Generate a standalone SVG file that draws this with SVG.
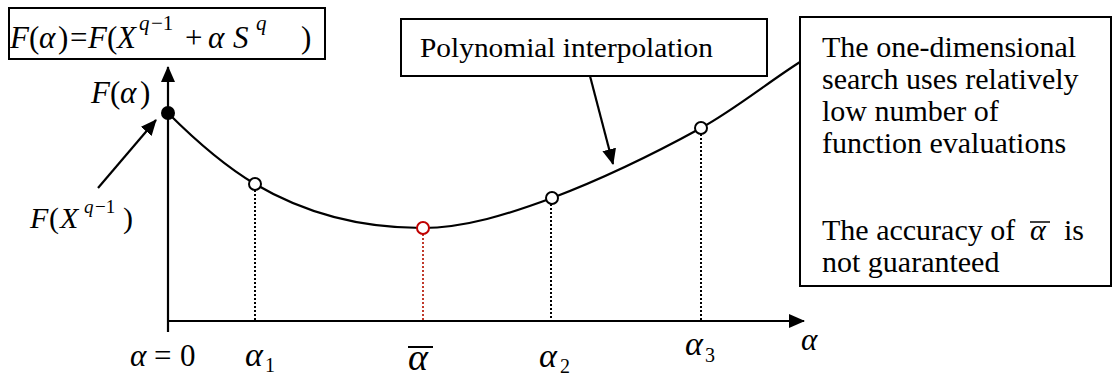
<svg xmlns="http://www.w3.org/2000/svg" width="1113" height="376" viewBox="0 0 1113 376">
<style>
.box{fill:#fff;stroke:#000;stroke-width:2}
.ln{fill:none;stroke:#000;stroke-width:2.2}
.dot{fill:none;stroke:#000;stroke-width:2;stroke-dasharray:2,2}
.rdot{fill:none;stroke:#c0392b;stroke-width:2;stroke-dasharray:2,2}
.pt{fill:#fff;stroke:#000;stroke-width:2}
.m{font-family:"Liberation Serif","Times New Roman",serif;font-style:italic;fill:#000}
.u{font-family:"Liberation Serif","Times New Roman",serif;font-style:normal;fill:#000}
.t{font-family:"Liberation Serif","Times New Roman",serif;font-size:30px;fill:#000}
</style>
<defs>
<marker id="ah" viewBox="0 0 16 14" refX="15" refY="7" markerWidth="16" markerHeight="14" markerUnits="userSpaceOnUse" orient="auto">
<path d="M0,0 L16,7 L0,14 z" fill="#000"/>
</marker>
</defs>
<rect width="1113" height="376" fill="#fff"/>

<g id="formula">
<rect class="box" x="9" y="8" width="316" height="51"/>
<text class="m" font-size="31" y="48"><tspan x="10">F</tspan><tspan class="u" x="29">(</tspan><tspan x="39">α</tspan><tspan class="u" x="58">)</tspan><tspan class="u" x="70">=</tspan><tspan x="88">F</tspan><tspan class="u" x="107">(</tspan><tspan x="117">X</tspan><tspan x="185" class="u">+</tspan><tspan x="208">α</tspan><tspan x="233">S</tspan><tspan class="u" x="301">)</tspan></text>
<text class="m" font-size="21" y="30"><tspan x="139">q</tspan><tspan class="u" x="151">−1</tspan><tspan x="256">q</tspan></text>
</g>

<g id="connectors">
<line class="ln" x1="168" y1="332" x2="168" y2="67" marker-end="url(#ah)"/>
<line class="ln" x1="167" y1="321" x2="804" y2="321" marker-end="url(#ah)"/>
<path class="ln" d="M168,113 C195,140 228,168 255,184 C310,216.5 367,228 422,228 C465,228 509,214 552,198 C602,179 651,155.5 701,128 C734,110 767,83 800,62"/>
<line class="dot" x1="255" y1="190" x2="255" y2="320"/>
<line class="rdot" x1="423" y1="234" x2="423" y2="320"/>
<line class="dot" x1="551" y1="204" x2="551" y2="320"/>
<line class="dot" x1="701" y1="134" x2="701" y2="320"/>
<line class="ln" x1="98" y1="188" x2="156" y2="120" marker-end="url(#ah)"/>
<line class="ln" x1="590" y1="76" x2="613" y2="164" marker-end="url(#ah)"/>
</g>

<g id="points">
<circle cx="168" cy="113" r="7" fill="#000"/>
<circle class="pt" cx="255" cy="184" r="6"/>
<circle cx="423" cy="228" r="6" fill="#fff" stroke="#c00000" stroke-width="2"/>
<circle class="pt" cx="552" cy="198" r="6"/>
<circle class="pt" cx="701" cy="128" r="6"/>
</g>

<g id="axis-label-F">
<text class="m" font-size="31" y="103"><tspan x="91">F</tspan><tspan class="u" x="110">(</tspan><tspan x="120">α</tspan><tspan class="u" x="140">)</tspan></text>
</g>

<g id="label-FX">
<text class="m" font-size="30" y="228"><tspan x="30">F</tspan><tspan class="u" x="49">(</tspan><tspan x="60">X</tspan><tspan class="u" x="123">)</tspan></text>
<text class="m" font-size="19" y="213"><tspan x="84">q</tspan><tspan class="u" x="95">−1</tspan></text>
</g>

<g id="poly-box">
<rect class="box" x="401" y="19" width="366" height="57"/>
<text class="u" font-size="28" x="420" y="57" textLength="293" lengthAdjust="spacingAndGlyphs">Polynomial interpolation</text>
</g>

<g id="note-box">
<rect class="box" x="800" y="17" width="311" height="269"/>
<text class="t" x="822" y="57">The one-dimensional</text>
<text class="t" x="822" y="89">search uses relatively</text>
<text class="t" x="822" y="121">low number of</text>
<text class="t" x="822" y="153">function evaluations</text>
<text class="t" y="240"><tspan x="822">The accuracy of</tspan><tspan x="1030" font-style="italic">α</tspan><tspan x="1064">is</tspan></text>
<line x1="1030" y1="222" x2="1050" y2="222" stroke="#000" stroke-width="1.5"/>
<text class="t" x="822" y="272">not guaranteed</text>
</g>

<g id="x-labels">
<text class="m" font-size="31" y="366"><tspan x="130">α</tspan><tspan class="u" x="154">=</tspan><tspan class="u" x="180">0</tspan></text>
<text class="m" font-size="34" x="245" y="366">α</text>
<text class="u" font-size="20" x="265" y="372">1</text>
<text class="m" font-size="38" x="408" y="370">α</text>
<line x1="408" y1="347" x2="433" y2="347" stroke="#000" stroke-width="2"/>
<text class="m" font-size="34" x="539" y="367">α</text>
<text class="u" font-size="20" x="560" y="373">2</text>
<text class="m" font-size="34" x="685" y="355">α</text>
<text class="u" font-size="20" x="705" y="362">3</text>
<text class="m" font-size="31" x="801" y="350">α</text>
</g>
</svg>
